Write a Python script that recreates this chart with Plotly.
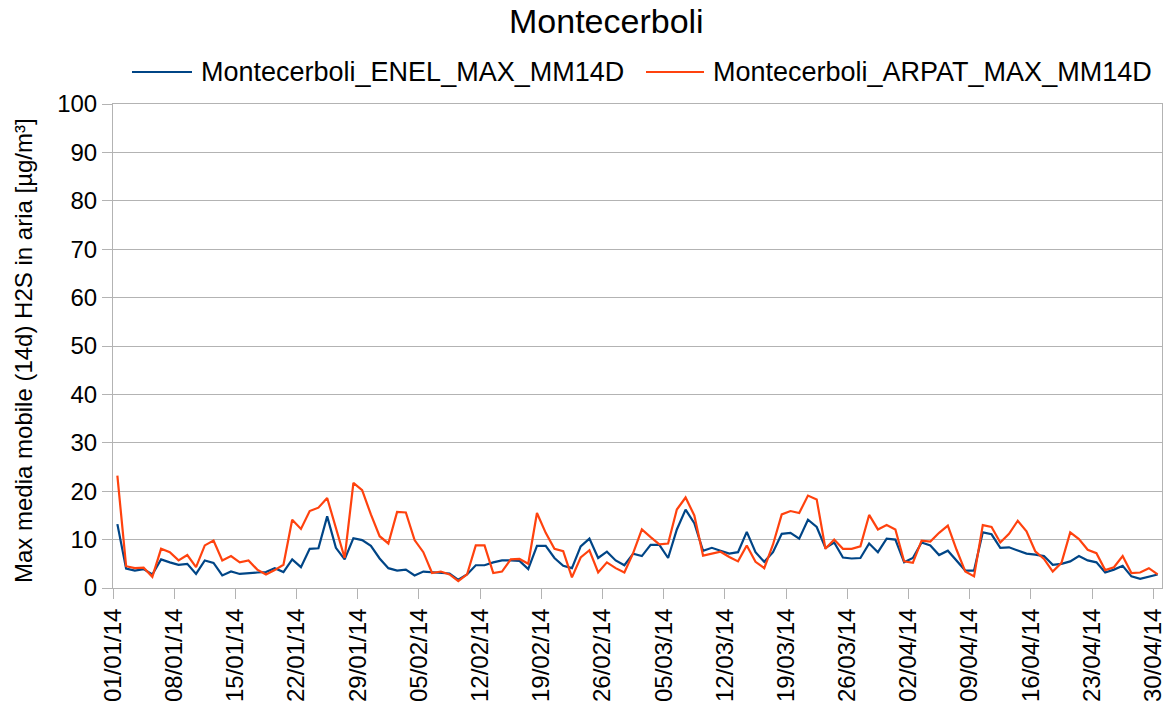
import pandas as pd
import plotly.graph_objects as go

# Daily 14-day moving-average maxima, 01/01/2014 - 30/04/2014
start_date = "2014-01-01"
n_days = 120

enel_name = "Montecerboli_ENEL_MAX_MM14D"
arpat_name = "Montecerboli_ARPAT_MAX_MM14D"

enel_values = [
    13.2, 4.0, 3.6, 3.9, 2.8, 5.9, 5.3, 4.8, 5.0, 2.9,
    5.7, 5.2, 2.6, 3.4, 2.9, 3.1, 3.2, 3.3, 4.1, 3.3,
    5.9, 4.3, 8.1, 8.2, 14.8, 8.3, 5.9, 10.3, 9.9, 8.7,
    6.1, 4.1, 3.6, 3.8, 2.6, 3.4, 3.3, 3.2, 3.0, 1.7,
    2.8, 4.7, 4.7, 5.3, 5.7, 5.7, 5.6, 3.9, 8.7, 8.7,
    6.2, 4.6, 4.1, 8.6, 10.2, 6.2, 7.5, 5.7, 4.7, 7.1,
    6.6, 8.9, 8.9, 6.2, 12.1, 16.2, 13.4, 7.7, 8.3, 7.7,
    7.1, 7.4, 11.6, 7.4, 5.4, 7.4, 11.2, 11.4, 10.2, 14.1,
    12.6, 8.3, 9.4, 6.3, 6.1, 6.2, 9.2, 7.4, 10.2, 10.0,
    5.3, 6.2, 9.4, 8.8, 6.8, 7.7, 5.7, 3.6, 3.6, 11.5,
    11.1, 8.3, 8.4, 7.7, 7.1, 6.9, 6.6, 4.8, 5.0, 5.5,
    6.6, 5.7, 5.3, 3.2, 3.8, 4.6, 2.4, 1.9, 2.4, 2.8,
]

arpat_values = [
    23.2, 4.5, 4.1, 4.2, 2.3, 8.1, 7.4, 5.7, 6.8, 4.3,
    8.8, 9.8, 5.7, 6.6, 5.3, 5.7, 3.8, 2.8, 3.7, 4.8,
    14.1, 12.2, 15.9, 16.6, 18.6, 12.2, 6.2, 21.7, 20.2, 15.2,
    10.7, 9.2, 15.7, 15.6, 9.9, 7.4, 3.1, 3.4, 2.8, 1.4,
    2.8, 8.8, 8.8, 3.1, 3.4, 5.9, 6.0, 5.0, 15.5, 11.4,
    8.1, 7.6, 2.2, 6.3, 7.8, 3.2, 5.3, 4.1, 3.2, 7.2,
    12.1, 10.5, 9.0, 9.2, 16.2, 18.7, 15.0, 6.7, 7.1, 7.5,
    6.4, 5.5, 8.8, 5.4, 4.1, 9.0, 15.2, 15.9, 15.5, 19.1,
    18.3, 8.1, 10.0, 8.1, 8.1, 8.6, 15.1, 12.1, 13.0, 12.1,
    5.5, 5.2, 9.8, 9.6, 11.4, 12.9, 7.9, 3.4, 2.4, 13.0,
    12.6, 9.4, 11.2, 13.9, 11.7, 7.6, 6.0, 3.4, 5.2, 11.5,
    10.1, 7.9, 7.2, 3.7, 4.3, 6.6, 3.1, 3.2, 4.1, 2.8,
]

y_ticks = [0, 10, 20, 30, 40, 50, 60, 70, 80, 90, 100]

title_text = "Montecerboli"
y_title = "Max media mobile (14d) H2S in aria [µg/m³]"

BLUE = "#004586"
ORANGE = "#ff420e"
GRID = "#b3b3b3"
FONT = "Liberation Sans, Arial, sans-serif"

# each value is plotted in the middle of its day
days = pd.date_range(start_date, periods=n_days, freq="D")
x_mid = days + pd.Timedelta(hours=12)
x_end = days[-1] + pd.Timedelta(days=1)

fig = go.Figure()
fig.add_trace(go.Scatter(x=x_mid, y=enel_values, mode="lines", name=enel_name,
                         line=dict(color=BLUE, width=2.2), showlegend=False))
fig.add_trace(go.Scatter(x=x_mid, y=arpat_values, mode="lines", name=arpat_name,
                         line=dict(color=ORANGE, width=2.2), showlegend=False))

W, H = 1174, 719
L, R, T, B = 113, 12, 104, 131
pw, ph = W - L - R, H - T - B


def px_x(px):
    return (px - L) / pw


def px_y(py):
    return (H - B - py) / ph


# legend drawn as line samples + labels above the plot
shapes = []
annotations = []
for name, color, x0, x1, tx in [(enel_name, BLUE, 132, 192, 199),
                                (arpat_name, ORANGE, 646, 704, 711)]:
    shapes.append(dict(type="line", xref="paper", yref="paper",
                       x0=px_x(x0), x1=px_x(x1), y0=px_y(72), y1=px_y(72),
                       line=dict(color=color, width=2.2)))
    annotations.append(dict(text=name, xref="paper", yref="paper",
                            x=px_x(tx), y=px_y(72), xanchor="left", yanchor="middle",
                            showarrow=False, font=dict(family=FONT, size=27, color="black")))

annotations.append(dict(text=title_text, xref="paper", yref="paper",
                        x=px_x(606), y=px_y(21), xanchor="center", yanchor="middle",
                        showarrow=False, font=dict(family=FONT, size=34, color="black")))
annotations.append(dict(text=y_title, xref="paper", yref="paper",
                        x=px_x(23), y=px_y(351), xanchor="center", yanchor="middle",
                        textangle=-90, showarrow=False,
                        font=dict(family=FONT, size=24, color="black")))

fig.update_layout(
    width=W, height=H,
    margin=dict(l=L, r=R, t=T, b=B, autoexpand=False),
    paper_bgcolor="white", plot_bgcolor="white",
    font=dict(family=FONT, size=24, color="black"),
    shapes=shapes, annotations=annotations,
    xaxis=dict(
        type="date", range=[days[0], x_end],
        tick0=days[0], dtick=7 * 86400000, tickformat="%d/%m/%y",
        tickangle=-90, ticks="outside", ticklen=10, tickcolor=GRID, tickwidth=1,
        showline=True, linecolor=GRID, linewidth=1, mirror=True,
        showgrid=False, zeroline=False,
        tickfont=dict(family=FONT, size=24, color="black"),
    ),
    yaxis=dict(
        range=[0, 100], tickvals=y_ticks,
        ticks="outside", ticklen=10, tickcolor=GRID, tickwidth=1,
        showline=True, linecolor=GRID, linewidth=1, mirror=True,
        showgrid=True, gridcolor=GRID, gridwidth=1, zeroline=False,
        tickfont=dict(family=FONT, size=24, color="black"),
    ),
)

fig.write_html("out.html")
